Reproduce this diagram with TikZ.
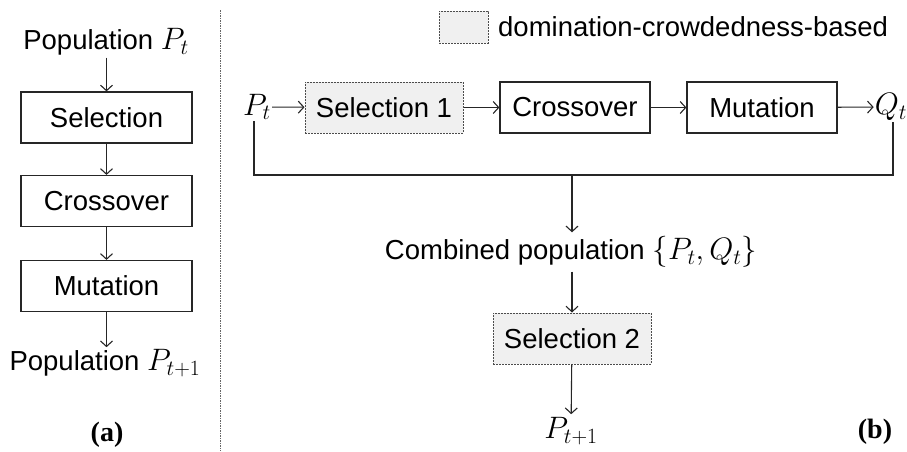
\documentclass[tikz,border=0pt]{standalone}
\usepackage{fix-cm}
\usepackage{fontspec}
\setmainfont{Liberation Sans}
\newfontfamily\labelfont{Liberation Serif}
\usetikzlibrary{arrows.meta}
% math symbols set a little larger than the surrounding text
\newcommand\mth[1]{{\fontsize{31}{34}\selectfont$#1$}}
\begin{document}
\begin{tikzpicture}[x=1pt,y=-1pt,
  every node/.style={font=\fontsize{27.5}{31}\selectfont},
  proc/.style={draw=black!85, line width=1.2pt, minimum height=51pt, inner sep=0pt},
  dproc/.style={proc, draw=black!70, fill=black!6, dash pattern=on 2pt off 1pt, line width=1pt},
  link/.style={line width=1.1pt, draw=black!85,
    -{Straight Barb[length=5.5pt,width=12pt,line width=1.1pt]}},
  wire/.style={line width=1.1pt, draw=black!85},
  txt/.style={inner sep=2pt},
  tag/.style={font=\fontsize{28}{32}\selectfont\labelfont\bfseries, inner sep=0pt}
]
\useasboundingbox (0,0) rectangle (907,451);

% ---------- (a) classical loop ----------
\node[txt] (popt) at (106,42) {Population \mth{P_t}};
\node[proc, minimum width=171pt] (asel) at (106.5,117.5) {Selection};
\node[proc, minimum width=171pt] (acro) at (106.5,201) {Crossover};
\node[proc, minimum width=171pt] (amut) at (106.5,286) {Mutation};
\node[txt] (popn) at (105,363) {Population \mth{P_{t+1}}};
\node[tag] (la) at (107,435) {(a)};

\draw[link] (asel.north |- popt.south) -- (asel.north);
\draw[link] (asel) -- (acro);
\draw[link] (acro) -- (amut);
\draw[link] (amut.south) -- (amut.south |- popn.north);

% separator between the two panels
\draw[black!60, line width=1pt, dash pattern=on 1.5pt off 1pt] (220,10) -- (220,451);

% ---------- (b) proposed loop ----------
\node[dproc, minimum width=49pt, minimum height=32pt] (key) at (463.5,27) {};
\node[txt, anchor=west] (keytxt) at (496,27) {domination-crowdedness-based};

\node[inner sep=1pt] (pt) at (257,107) {\mth{P_t}};
\node[dproc, minimum width=158pt] (bsel) at (384,107.5) {Selection 1};
\node[proc, minimum width=150pt] (bcro) at (575,107.5) {Crossover};
\node[proc, minimum width=150pt] (bmut) at (762,107.5) {Mutation};
\node[inner sep=1pt] (qt) at (891,107) {\mth{Q_t}};

\draw[link] (pt) -- (bsel);
\draw[link] (bsel) -- (bcro);
\draw[link] (bcro) -- (bmut);
\draw[link] (bmut) -- (qt);

\node[txt, inner ysep=4pt] (comb) at (571,252) {Combined population \mth{\{P_t, Q_t\}}};
\node[dproc, minimum width=158pt] (bsel2) at (572,338.5) {Selection 2};
\node[inner sep=3pt] (pn) at (571,431) {\mth{P_{t+1}}};
\node[tag] (lb) at (875,432) {(b)};

\coordinate (join) at (bsel2.north |- 0,175);
\draw[wire] (pt.south -| 254,0) -- (254,175) -- (893,175) -- (qt.south -| 893,0);
\draw[link] (join) -- (join |- comb.north);
\draw[link] (bsel2.north |- comb.south) -- (bsel2.north);
\draw[link] (bsel2) -- (pn);
\end{tikzpicture}
\end{document}
